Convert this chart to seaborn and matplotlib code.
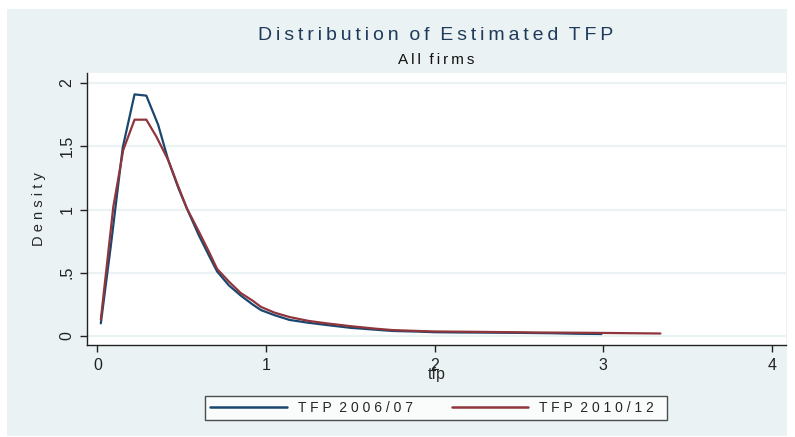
import numpy as np
import pandas as pd
import matplotlib
matplotlib.use("Agg")
import matplotlib.pyplot as plt
import seaborn as sns
from matplotlib.patches import Rectangle
from matplotlib.lines import Line2D

# ---- data ----
series_names = ["TFP 2006/07", "TFP 2010/12"]

tfp_0607_x = [0.02, 0.08, 0.15, 0.22, 0.29, 0.36, 0.42, 0.48, 0.53, 0.60, 0.66, 0.71,
              0.78, 0.85, 0.92, 0.97, 1.05, 1.14, 1.25, 1.36, 1.50, 1.65, 1.75, 1.90,
              2.00, 2.15, 2.30, 2.50, 2.70, 2.85, 2.99]
tfp_0607_y = [0.10, 0.72, 1.49, 1.91, 1.90, 1.67, 1.39, 1.17, 1.01, 0.80, 0.64, 0.51,
              0.40, 0.32, 0.25, 0.205, 0.165, 0.127, 0.105, 0.087, 0.065, 0.050, 0.040, 0.035,
              0.030, 0.028, 0.027, 0.025, 0.022, 0.018, 0.016]

tfp_1012_x = [0.02, 0.094, 0.153, 0.22, 0.29, 0.35, 0.42, 0.48, 0.53, 0.60, 0.66, 0.71,
              0.78, 0.85, 0.92, 0.97, 1.05, 1.14, 1.25, 1.36, 1.50, 1.65, 1.75, 1.90,
              2.00, 2.25, 2.60, 2.95, 3.34]
tfp_1012_y = [0.13, 1.02, 1.47, 1.71, 1.71, 1.575, 1.39, 1.18, 1.01, 0.83, 0.67, 0.53,
              0.43, 0.34, 0.28, 0.23, 0.185, 0.15, 0.12, 0.10, 0.078, 0.058, 0.047, 0.040,
              0.036, 0.033, 0.028, 0.025, 0.020]

x_ticks = [0, 1, 2, 3, 4]
x_tick_labels = ["0", "1", "2", "3", "4"]
y_ticks = [0, 0.5, 1, 1.5, 2]
y_tick_labels = ["0", ".5", "1", "1.5", "2"]

title = "Distribution of Estimated TFP"
subtitle = "All firms"
x_label = "tfp"
y_label = "Density"

df = pd.concat([
    pd.DataFrame({"tfp": tfp_0607_x, "density": tfp_0607_y, "series": series_names[0]}),
    pd.DataFrame({"tfp": tfp_1012_x, "density": tfp_1012_y, "series": series_names[1]}),
], ignore_index=True)

BG = "#EAF2F3"
NAVY = "#1A476F"
MAROON = "#90353B"
THIN = "\u2009"

def spaced(s, sep=THIN, word="  "):
    return word.join(sep.join(list(w)) for w in s.split(" "))

sns.set_style("white")
plt.rcParams["font.family"] = ["Liberation Sans", "DejaVu Sans"]

fig = plt.figure(figsize=(7.95, 4.37), dpi=100)
fig.patch.set_facecolor("white")
bg = Rectangle((7 / 795, 1 - 436 / 437), (787 - 7) / 795, (436 - 9) / 437,
               transform=fig.transFigure, facecolor=BG, edgecolor="none", zorder=-5)
fig.add_artist(bg)

ax = fig.add_axes([87 / 795, 1 - 345 / 437, (786 - 87) / 795, (345 - 73) / 437])
ax.set_zorder(1)
ax.set_facecolor("white")

sns.lineplot(data=df, x="tfp", y="density", hue="series", palette=[NAVY, MAROON],
             sort=False, estimator=None, linewidth=1.6, legend=False, ax=ax, zorder=3)

ax.set_xlim(-0.062, 4.085)
ax.set_ylim(-0.071, 2.079)
ax.set_xticks(x_ticks)
ax.set_xticklabels(x_tick_labels, fontsize=11.5)
ax.set_yticks(y_ticks)
ax.set_yticklabels(y_tick_labels, fontsize=11.5, rotation=90, va="center")
for y in y_ticks:
    ax.axhline(y, color=BG, linewidth=1.6, zorder=1)

for side in ["top", "right"]:
    ax.spines[side].set_visible(False)
for side in ["left", "bottom"]:
    ax.spines[side].set_color("#222222")
    ax.spines[side].set_linewidth(1.0)
ax.tick_params(axis="both", which="major", direction="out", length=5, width=1,
               color="#222222", labelcolor="#222222", bottom=True, left=True)
ax.tick_params(axis="x", pad=4)
ax.tick_params(axis="y", pad=4)

ax.set_xlabel(x_label, fontsize=11.5, labelpad=-4)
ax.set_ylabel(spaced(y_label, sep=" "), fontsize=10.5, labelpad=10)

fig.text(436 / 795, 1 - 36 / 437, spaced(title), ha="center", va="center",
         fontsize=14, color="#1F3A5A")
fig.text(436 / 795, 1 - 60 / 437, spaced(subtitle), ha="center", va="center",
         fontsize=11, color="#111111")

handles = [Line2D([], [], color=NAVY, linewidth=1.8), Line2D([], [], color=MAROON, linewidth=1.8)]
legend_labels = [spaced(s, sep=" ", word="  ") for s in series_names]
legend_labels[1] = legend_labels[1] + "  "
leg = fig.legend(handles, legend_labels, loc="center",
                 bbox_to_anchor=(436 / 795, 1 - 408 / 437), ncol=2, frameon=True,
                 fancybox=False, fontsize=10, handlelength=5.5, columnspacing=2.8,
                 borderpad=0.35, handletextpad=0.8)
leg.get_frame().set_edgecolor("#222222")
leg.get_frame().set_linewidth(1.0)
leg.get_frame().set_facecolor("white")

fig.savefig("out.png", dpi=100, facecolor=fig.get_facecolor())
